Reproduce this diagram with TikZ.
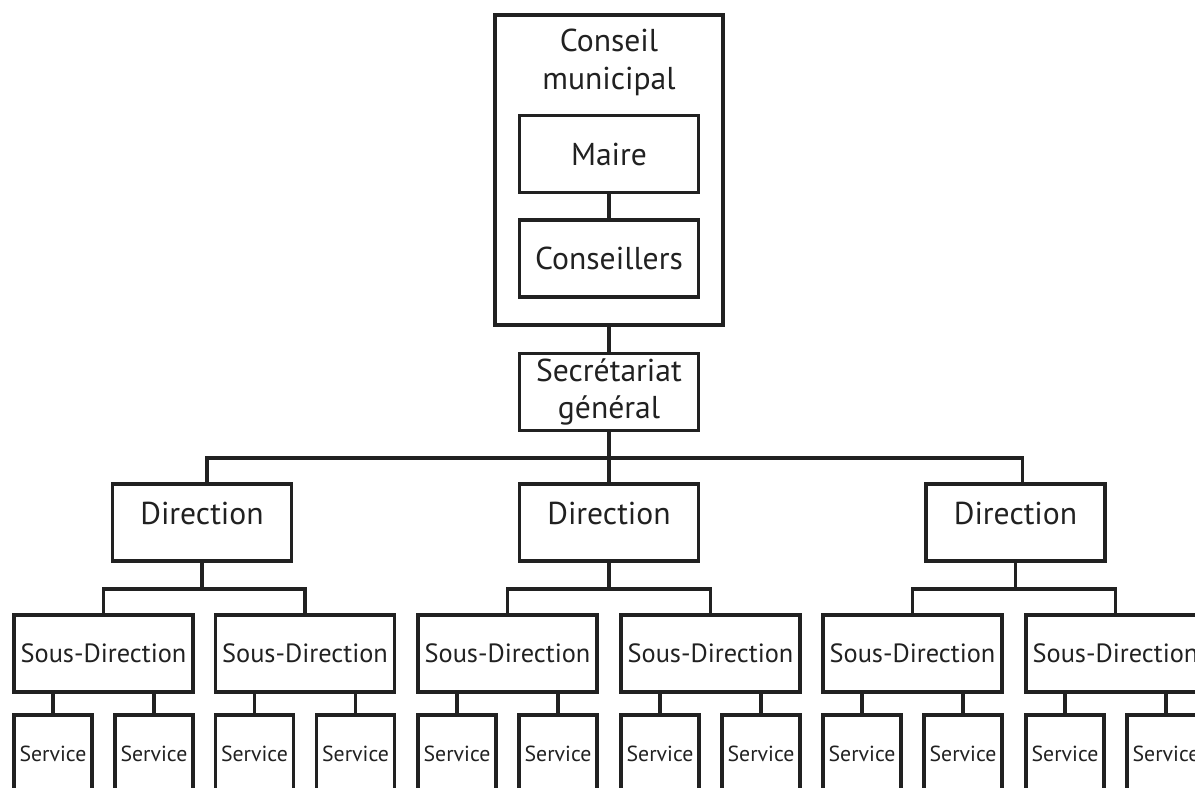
\documentclass[tikz,border=0pt]{standalone}
\usepackage{fontspec}
\setmainfont{PT Sans}
\definecolor{ink}{gray}{0.13}

\begin{document}
\begin{tikzpicture}[
    box/.style={draw=ink, line width=1pt, minimum width=1.79cm, minimum height=0.77cm,
                inner sep=0pt, text=ink, align=center, font=\fontsize{9}{10.6}\selectfont},
    dirbox/.style={box, text depth=0.18cm},
    sousbox/.style={box, font=\fontsize{7.5}{9}\selectfont},
    svcbox/.style={box, minimum width=0.78cm, minimum height=0.78cm, font=\fontsize{6.2}{7}\selectfont},
    link/.style={draw=ink, line width=1pt}]
    \useasboundingbox (0,0) rectangle (11.95,-7.87);
    \clip (0,0) rectangle (11.95,-7.87);
    % council block
    \node [box, minimum width=2.28cm, minimum height=3.10cm] (conseil) at (6.09,-1.70) {};
    \node [text=ink, align=center, font=\fontsize{9}{10.6}\selectfont] (conseiltxt) at (6.09,-0.625) {Conseil\\municipal};
    \node [box] (maire) at (6.09,-1.54) {Maire};
    \node [box] (conseillers) at (6.09,-2.585) {Conseillers};
    \draw [link] (maire) -- (conseillers);
    \node [box] (secr) at (6.09,-3.92) {Secrétariat\\général};
    \draw [link] (conseil) -- (secr);
    % directions
    \node [dirbox] (dirA) at (2.02,-5.225) {Direction};
    \node [dirbox] (dirB) at (6.09,-5.225) {Direction};
    \node [dirbox] (dirC) at (10.155,-5.225) {Direction};
    \coordinate (barTop) at (6.09,-4.58);
    \draw [link] (secr) -- (barTop) -- (dirB);
    \draw [link] ([xshift=0.05cm]dirA.north) |- (barTop) -| ([xshift=0.07cm]dirC.north);
    % sous-directions
    \node [sousbox] (sdA1) at (1.035,-6.535) {Sous-Direction};
    \node [sousbox] (sdA2) at (3.05,-6.535) {Sous-Direction};
    \node [sousbox] (sdB1) at (5.075,-6.535) {Sous-Direction};
    \node [sousbox] (sdB2) at (7.105,-6.535) {Sous-Direction};
    \node [sousbox] (sdC1) at (9.125,-6.535) {Sous-Direction};
    \node [sousbox] (sdC2) at (11.155,-6.535) {Sous-Direction};
    \coordinate (barA) at (2.02,-5.89);
    \coordinate (barB) at (6.09,-5.89);
    \coordinate (barC) at (10.155,-5.89);
    \draw [link] (dirA) -- (barA);
    \draw [link] (dirB) -- (barB);
    \draw [link] (dirC) -- (barC);
    \draw [link] (sdA1.north) |- (barA) -| (sdA2.north);
    \draw [link] (sdB1.north) |- (barB) -| (sdB2.north);
    \draw [link] (sdC1.north) |- (barC) -| (sdC2.north);
    % services
    \node [svcbox] (svA1a) at (0.53,-7.54) {Service};
    \node [svcbox] (svA1b) at (1.54,-7.54) {Service};
    \node [svcbox] (svA2a) at (2.545,-7.54) {Service};
    \node [svcbox] (svA2b) at (3.555,-7.54) {Service};
    \node [svcbox] (svB1a) at (4.57,-7.54) {Service};
    \node [svcbox] (svB1b) at (5.58,-7.54) {Service};
    \node [svcbox] (svB2a) at (6.60,-7.54) {Service};
    \node [svcbox] (svB2b) at (7.61,-7.54) {Service};
    \node [svcbox] (svC1a) at (8.62,-7.54) {Service};
    \node [svcbox] (svC1b) at (9.63,-7.54) {Service};
    \node [svcbox] (svC2a) at (10.65,-7.54) {Service};
    \node [svcbox] (svC2b) at (11.66,-7.54) {Service};
    \draw [link] (sdA1.south -| svA1a.north) -- (svA1a.north);
    \draw [link] (sdA1.south -| svA1b.north) -- (svA1b.north);
    \draw [link] (sdA2.south -| svA2a.north) -- (svA2a.north);
    \draw [link] (sdA2.south -| svA2b.north) -- (svA2b.north);
    \draw [link] (sdB1.south -| svB1a.north) -- (svB1a.north);
    \draw [link] (sdB1.south -| svB1b.north) -- (svB1b.north);
    \draw [link] (sdB2.south -| svB2a.north) -- (svB2a.north);
    \draw [link] (sdB2.south -| svB2b.north) -- (svB2b.north);
    \draw [link] (sdC1.south -| svC1a.north) -- (svC1a.north);
    \draw [link] (sdC1.south -| svC1b.north) -- (svC1b.north);
    \draw [link] (sdC2.south -| svC2a.north) -- (svC2a.north);
    \draw [link] (sdC2.south -| svC2b.north) -- (svC2b.north);
\end{tikzpicture}
\end{document}
